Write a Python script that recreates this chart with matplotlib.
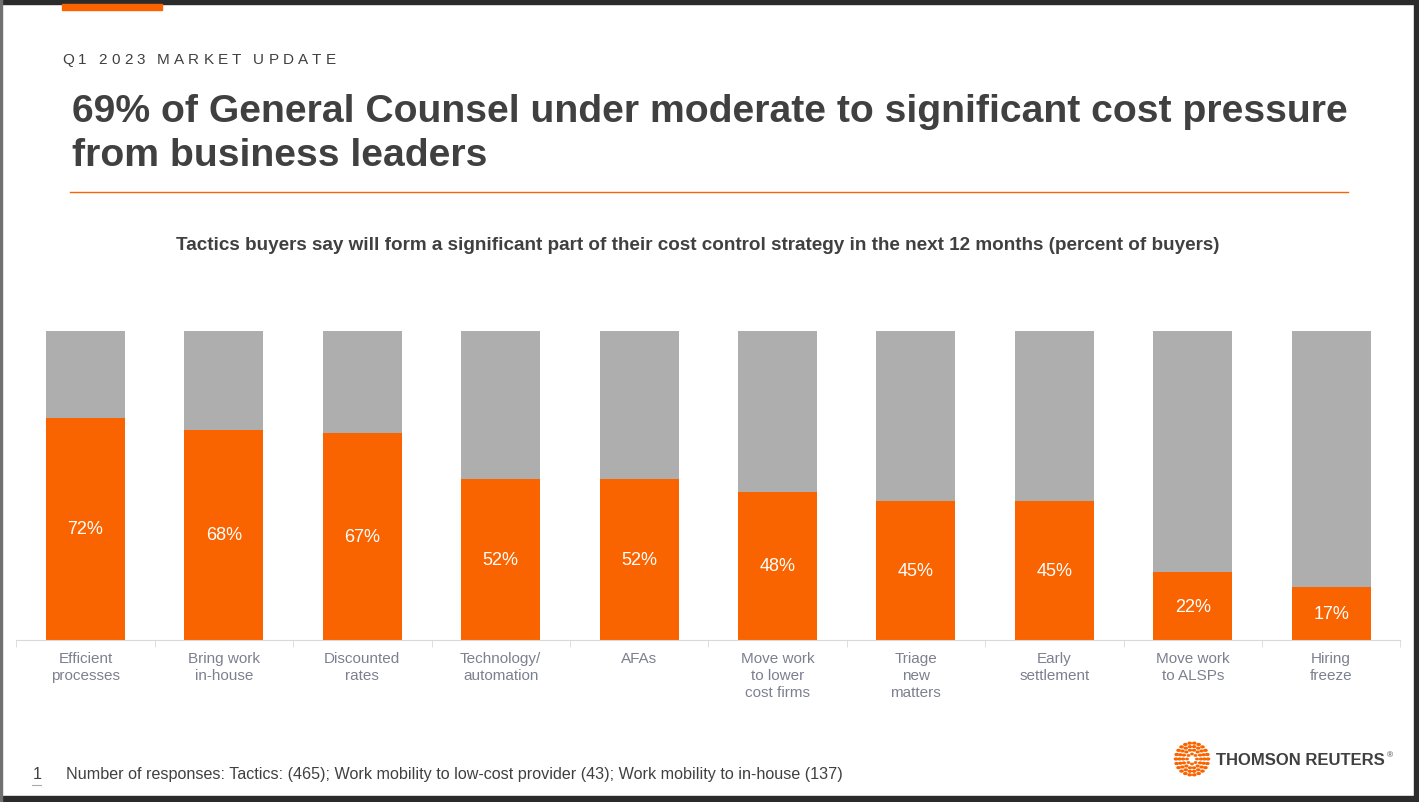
import numpy as np
import matplotlib
matplotlib.use("Agg")
import matplotlib.pyplot as plt
from matplotlib.patches import Rectangle, Circle
from matplotlib.lines import Line2D

plt.rcParams['font.family'] = ['Liberation Sans', 'DejaVu Sans']

# Datos
categorias = ["Efficient\nprocesses", "Bring work\nin-house", "Discounted\nrates",
              "Technology/\nautomation", "AFAs", "Move work\nto lower\ncost firms",
              "Triage\nnew\nmatters", "Early\nsettlement", "Move work\nto ALSPs", "Hiring\nfreeze"]
valores = [72, 68, 67, 52, 52, 48, 45, 45, 22, 17]

naranja = "#F96400"
gris = "#AEAEAE"
texto = "#404040"

W, H = 1419, 803
fig = plt.figure(figsize=(W/100, H/100), dpi=100)
rend = fig.canvas.get_renderer()

def fx(px): return px / W
def fy(py): return 1 - py / H

# marco
fig.patches.append(Rectangle((0, fy(5)), 1, 5/H, transform=fig.transFigure, color="#2b2b2b", zorder=0))
fig.patches.append(Rectangle((0, 0), 1, 6/H, transform=fig.transFigure, color="#2b2b2b", zorder=0))
fig.patches.append(Rectangle((fx(1414), 0), 5/W, 1, transform=fig.transFigure, color="#2b2b2b", zorder=0))
fig.patches.append(Rectangle((0, 0), 1.5/W, 1, transform=fig.transFigure, color="#707070", zorder=0))
fig.patches.append(Rectangle((fx(62), fy(11)), 100/W, 6/H, transform=fig.transFigure, color=naranja, zorder=1))

# encabezado con espaciado entre letras
enc = "Q1 2023 MARKET UPDATE"
x0 = 62
for ch in enc:
    t = fig.text(fx(x0), fy(60), ch, fontsize=11, color=texto, va="center", ha="left")
    ancho = t.get_window_extent(renderer=rend).width if ch != " " else 4
    x0 += ancho + 4.1

fig.text(fx(72), fy(112), "69% of General Counsel under moderate to significant cost pressure",
         fontsize=28.2, fontweight="bold", color=texto, va="center", ha="left")
fig.text(fx(72), fy(156), "from business leaders",
         fontsize=28.2, fontweight="bold", color=texto, va="center", ha="left")
fig.lines.append(Line2D([fx(70), fx(1348)], [fy(193), fy(193)], transform=fig.transFigure,
                        color=naranja, lw=1))

fig.text(fx(698), fy(245), "Tactics buyers say will form a significant part of their cost control strategy in the next 12 months (percent of buyers)",
         fontsize=13.6, fontweight="bold", color=texto, va="center", ha="center")

# grafico
ax = fig.add_axes([fx(16.3), fy(641), (1400.3-16.3)/W, 309/H])
x = np.arange(len(valores))
ax.bar(x, [100]*len(valores), width=0.57, color=gris, zorder=1)
ax.bar(x, valores, width=0.57, color=naranja, zorder=2)
for xi, v in zip(x, valores):
    ax.text(xi, v/2, f"{v}%", ha="center", va="center", color="white", fontsize=13, zorder=3)
ax.set_xlim(-0.5, 9.5)
ax.set_ylim(0, 100)
for s in ["top", "left", "right"]:
    ax.spines[s].set_visible(False)
ax.spines["bottom"].set_color("#d9d9d9")
ax.set_yticks([])
ax.set_xticks(x)
ax.set_xticklabels(categorias, fontsize=11, color="#7c8090", linespacing=1.25)
ax.tick_params(axis="x", length=0, pad=8)
ax.set_xticks(np.arange(-0.5, 10, 1), minor=True)
ax.tick_params(axis="x", which="minor", length=5, color="#d9d9d9")

# nota al pie
fig.text(fx(33), fy(775), "1", fontsize=11.6, color=texto, va="center", ha="left")
fig.lines.append(Line2D([fx(32), fx(41)], [fy(786), fy(786)], transform=fig.transFigure, color="#aaaaaa", lw=0.8))
fig.text(fx(66), fy(775), "Number of responses: Tactics: (465); Work mobility to low-cost provider (43); Work mobility to in-house (137)",
         fontsize=11.6, color=texto, va="center", ha="left")

# logo
cx, cy = 1192, 760
for r, n, s in [(5, 8, 1.2), (9, 14, 1.4), (12.5, 18, 1.5), (16, 22, 1.6)]:
    ang = np.linspace(0, 2*np.pi, n, endpoint=False)
    for a in ang:
        fig.patches.append(Circle((fx(cx + r*np.cos(a)), fy(cy + r*np.sin(a))), s/W,
                                  transform=fig.transFigure, color=naranja))
fig.text(fx(1216), fy(761), "THOMSON REUTERS", fontsize=12, fontweight="bold", color=texto, va="center", ha="left")
fig.text(fx(1387), fy(756), "®", fontsize=6, color=texto, va="center", ha="left")

fig.savefig("out.png", dpi=100)
